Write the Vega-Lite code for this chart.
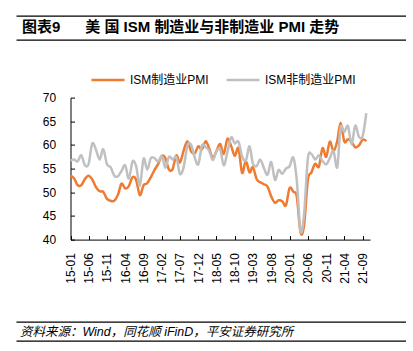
{
  "$schema": "https://vega.github.io/schema/vega-lite/v6.json",
  "padding": {"left": 16, "top": 15.6, "right": 0, "bottom": 0},
  "background": "white",
  "config": {"view": {"stroke": null}, "font": "Liberation Sans, Noto Sans CJK SC", "axisX": {"labelOverlap": false}},
  "bounds": "flush",
  "spacing": 0,
  "vconcat": [
    {
      "width": 390,
      "height": 23.3,
      "data": {"values": []},
      "title": {"text": "图表9\u00a0\u00a0\u00a0\u00a0\u00a0\u00a0美 国 ISM 制造业与非制造业 PMI 走势", "orient": "top", "anchor": "start", "offset": -19, "dx": 6, "fontSize": 15, "fontWeight": "bold", "color": "#000", "font": "Liberation Sans, Noto Sans CJK SC"},
      "mark": {"type": "point", "opacity": 0},
      "encoding": {"x": {"field": "v", "type": "quantitative", "scale": {"domain": [0, 1]}, "axis": {"orient": "top", "labels": false, "ticks": false, "grid": false, "title": null, "domainColor": "#000", "domainWidth": 1.3}}}
    },
    {
      "width": 390,
      "height": 57.7,
      "data": {"values": []},
      "mark": {"type": "point", "opacity": 0},
      "encoding": {"x": {"field": "v", "type": "quantitative", "scale": {"domain": [0, 1]}, "axis": {"orient": "top", "labels": false, "ticks": false, "grid": false, "title": null, "domainColor": "#000", "domainWidth": 1.3}}}
    },
    {
      "width": 390,
      "height": 223.7,
      "data": {"values": [
        {"date": "2015/01/01", "ISM制造业PMI": 53.5, "ISM非制造业PMI": 56.7},
        {"date": "2015/02/01", "ISM制造业PMI": 52.9, "ISM非制造业PMI": 56.9},
        {"date": "2015/03/01", "ISM制造业PMI": 51.5, "ISM非制造业PMI": 56.5},
        {"date": "2015/04/01", "ISM制造业PMI": 51.5, "ISM非制造业PMI": 57.8},
        {"date": "2015/05/01", "ISM制造业PMI": 52.8, "ISM非制造业PMI": 55.7},
        {"date": "2015/06/01", "ISM制造业PMI": 53.5, "ISM非制造业PMI": 56.0},
        {"date": "2015/07/01", "ISM制造业PMI": 52.7, "ISM非制造业PMI": 60.3},
        {"date": "2015/08/01", "ISM制造业PMI": 51.1, "ISM非制造业PMI": 59.0},
        {"date": "2015/09/01", "ISM制造业PMI": 50.2, "ISM非制造业PMI": 56.9},
        {"date": "2015/10/01", "ISM制造业PMI": 50.1, "ISM非制造业PMI": 59.1},
        {"date": "2015/11/01", "ISM制造业PMI": 48.6, "ISM非制造业PMI": 55.9},
        {"date": "2015/12/01", "ISM制造业PMI": 48.2, "ISM非制造业PMI": 55.3},
        {"date": "2016/01/01", "ISM制造业PMI": 48.2, "ISM非制造业PMI": 53.5},
        {"date": "2016/02/01", "ISM制造业PMI": 49.5, "ISM非制造业PMI": 53.4},
        {"date": "2016/03/01", "ISM制造业PMI": 51.8, "ISM非制造业PMI": 54.5},
        {"date": "2016/04/01", "ISM制造业PMI": 50.8, "ISM非制造业PMI": 55.7},
        {"date": "2016/05/01", "ISM制造业PMI": 51.3, "ISM非制造业PMI": 52.9},
        {"date": "2016/06/01", "ISM制造业PMI": 53.2, "ISM非制造业PMI": 56.5},
        {"date": "2016/07/01", "ISM制造业PMI": 52.6, "ISM非制造业PMI": 55.5},
        {"date": "2016/08/01", "ISM制造业PMI": 49.4, "ISM非制造业PMI": 51.4},
        {"date": "2016/09/01", "ISM制造业PMI": 51.5, "ISM非制造业PMI": 57.1},
        {"date": "2016/10/01", "ISM制造业PMI": 51.9, "ISM非制造业PMI": 54.8},
        {"date": "2016/11/01", "ISM制造业PMI": 53.2, "ISM非制造业PMI": 57.2},
        {"date": "2016/12/01", "ISM制造业PMI": 54.7, "ISM非制造业PMI": 57.2},
        {"date": "2017/01/01", "ISM制造业PMI": 56.0, "ISM非制造业PMI": 56.5},
        {"date": "2017/02/01", "ISM制造业PMI": 57.7, "ISM非制造业PMI": 57.6},
        {"date": "2017/03/01", "ISM制造业PMI": 57.2, "ISM非制造业PMI": 55.2},
        {"date": "2017/04/01", "ISM制造业PMI": 54.8, "ISM非制造业PMI": 57.5},
        {"date": "2017/05/01", "ISM制造业PMI": 54.9, "ISM非制造业PMI": 56.9},
        {"date": "2017/06/01", "ISM制造业PMI": 57.8, "ISM非制造业PMI": 57.4},
        {"date": "2017/07/01", "ISM制造业PMI": 56.3, "ISM非制造业PMI": 53.9},
        {"date": "2017/08/01", "ISM制造业PMI": 58.8, "ISM非制造业PMI": 55.3},
        {"date": "2017/09/01", "ISM制造业PMI": 60.8, "ISM非制造业PMI": 59.8},
        {"date": "2017/10/01", "ISM制造业PMI": 58.7, "ISM非制造业PMI": 60.1},
        {"date": "2017/11/01", "ISM制造业PMI": 58.2, "ISM非制造业PMI": 57.4},
        {"date": "2017/12/01", "ISM制造业PMI": 59.7, "ISM非制造业PMI": 55.9},
        {"date": "2018/01/01", "ISM制造业PMI": 59.1, "ISM非制造业PMI": 59.9},
        {"date": "2018/02/01", "ISM制造业PMI": 60.8, "ISM非制造业PMI": 59.5},
        {"date": "2018/03/01", "ISM制造业PMI": 59.3, "ISM非制造业PMI": 58.8},
        {"date": "2018/04/01", "ISM制造业PMI": 57.3, "ISM非制造业PMI": 56.8},
        {"date": "2018/05/01", "ISM制造业PMI": 58.7, "ISM非制造业PMI": 58.6},
        {"date": "2018/06/01", "ISM制造业PMI": 60.2, "ISM非制造业PMI": 59.1},
        {"date": "2018/07/01", "ISM制造业PMI": 58.1, "ISM非制造业PMI": 55.7},
        {"date": "2018/08/01", "ISM制造业PMI": 61.3, "ISM非制造业PMI": 58.5},
        {"date": "2018/09/01", "ISM制造业PMI": 59.8, "ISM非制造业PMI": 61.6},
        {"date": "2018/10/01", "ISM制造业PMI": 57.7, "ISM非制造业PMI": 60.3},
        {"date": "2018/11/01", "ISM制造业PMI": 59.3, "ISM非制造业PMI": 60.7},
        {"date": "2018/12/01", "ISM制造业PMI": 54.1, "ISM非制造业PMI": 57.6},
        {"date": "2019/01/01", "ISM制造业PMI": 56.6, "ISM非制造业PMI": 56.7},
        {"date": "2019/02/01", "ISM制造业PMI": 54.2, "ISM非制造业PMI": 59.7},
        {"date": "2019/03/01", "ISM制造业PMI": 55.3, "ISM非制造业PMI": 56.1},
        {"date": "2019/04/01", "ISM制造业PMI": 52.8, "ISM非制造业PMI": 55.5},
        {"date": "2019/05/01", "ISM制造业PMI": 52.1, "ISM非制造业PMI": 56.9},
        {"date": "2019/06/01", "ISM制造业PMI": 51.7, "ISM非制造业PMI": 55.1},
        {"date": "2019/07/01", "ISM制造业PMI": 51.2, "ISM非制造业PMI": 53.7},
        {"date": "2019/08/01", "ISM制造业PMI": 49.1, "ISM非制造业PMI": 56.4},
        {"date": "2019/09/01", "ISM制造业PMI": 47.8, "ISM非制造业PMI": 52.6},
        {"date": "2019/10/01", "ISM制造业PMI": 48.3, "ISM非制造业PMI": 54.7},
        {"date": "2019/11/01", "ISM制造业PMI": 48.1, "ISM非制造业PMI": 53.9},
        {"date": "2019/12/01", "ISM制造业PMI": 47.2, "ISM非制造业PMI": 55.0},
        {"date": "2020/01/01", "ISM制造业PMI": 50.9, "ISM非制造业PMI": 55.5},
        {"date": "2020/02/01", "ISM制造业PMI": 50.1, "ISM非制造业PMI": 57.3},
        {"date": "2020/03/01", "ISM制造业PMI": 49.1, "ISM非制造业PMI": 52.5},
        {"date": "2020/04/01", "ISM制造业PMI": 41.5, "ISM非制造业PMI": 41.8},
        {"date": "2020/05/01", "ISM制造业PMI": 43.1, "ISM非制造业PMI": 45.4},
        {"date": "2020/06/01", "ISM制造业PMI": 52.6, "ISM非制造业PMI": 57.1},
        {"date": "2020/07/01", "ISM制造业PMI": 54.2, "ISM非制造业PMI": 58.1},
        {"date": "2020/08/01", "ISM制造业PMI": 56.0, "ISM非制造业PMI": 56.9},
        {"date": "2020/09/01", "ISM制造业PMI": 55.4, "ISM非制造业PMI": 57.8},
        {"date": "2020/10/01", "ISM制造业PMI": 59.3, "ISM非制造业PMI": 56.6},
        {"date": "2020/11/01", "ISM制造业PMI": 57.5, "ISM非制造业PMI": 55.9},
        {"date": "2020/12/01", "ISM制造业PMI": 60.7, "ISM非制造业PMI": 57.2},
        {"date": "2021/01/01", "ISM制造业PMI": 58.7, "ISM非制造业PMI": 58.7},
        {"date": "2021/02/01", "ISM制造业PMI": 60.8, "ISM非制造业PMI": 55.3},
        {"date": "2021/03/01", "ISM制造业PMI": 64.7, "ISM非制造业PMI": 63.7},
        {"date": "2021/04/01", "ISM制造业PMI": 60.7, "ISM非制造业PMI": 62.7},
        {"date": "2021/05/01", "ISM制造业PMI": 61.2, "ISM非制造业PMI": 64.0},
        {"date": "2021/06/01", "ISM制造业PMI": 60.6, "ISM非制造业PMI": 60.1},
        {"date": "2021/07/01", "ISM制造业PMI": 59.5, "ISM非制造业PMI": 64.1},
        {"date": "2021/08/01", "ISM制造业PMI": 59.9, "ISM非制造业PMI": 61.7},
        {"date": "2021/09/01", "ISM制造业PMI": 61.1, "ISM非制造业PMI": 61.9},
        {"date": "2021/10/01", "ISM制造业PMI": 60.8, "ISM非制造业PMI": 66.7}
      ]},
      "encoding": {
        "x": {
          "field": "date", "type": "temporal",
          "scale": {"domain": [{"year": 2015, "month": 1, "date": 1}, {"year": 2021, "month": 11, "date": 1}], "range": [54.5, 354]},
          "axis": {
            "title": null, "grid": false, "format": "%y-%m", "offset": -81.7,
            "values": [
              {"year": 2015, "month": 1, "date": 1}, {"year": 2015, "month": 6, "date": 1}, {"year": 2015, "month": 11, "date": 1},
              {"year": 2016, "month": 4, "date": 1}, {"year": 2016, "month": 9, "date": 1}, {"year": 2017, "month": 2, "date": 1},
              {"year": 2017, "month": 7, "date": 1}, {"year": 2017, "month": 12, "date": 1}, {"year": 2018, "month": 5, "date": 1},
              {"year": 2018, "month": 10, "date": 1}, {"year": 2019, "month": 3, "date": 1}, {"year": 2019, "month": 8, "date": 1},
              {"year": 2020, "month": 1, "date": 1}, {"year": 2020, "month": 6, "date": 1}, {"year": 2020, "month": 11, "date": 1},
              {"year": 2021, "month": 4, "date": 1}, {"year": 2021, "month": 9, "date": 1}
            ],
            "labelAngle": 270, "labelAlign": "right", "labelBaseline": "middle",
            "labelOverlap": false, "labelFlush": false, "labelSeparation": 0,
            "tickSize": -4, "labelPadding": 17,
            "domainColor": "#000", "tickColor": "#000", "labelColor": "#000",
            "labelFontSize": 12, "labelFont": "Liberation Sans"
          }
        },
        "y": {
          "field": "value", "type": "quantitative",
          "scale": {"domain": [40, 70], "nice": false, "zero": false, "range": [142, 0]},
          "axis": {
            "title": null, "grid": false, "values": [40, 45, 50, 55, 60, 65, 70], "offset": -54.5,
            "tickSize": -4, "labelPadding": 18.8,
            "domainColor": "#000", "tickColor": "#000", "labelColor": "#000",
            "labelFontSize": 12, "labelFont": "Liberation Sans"
          }
        }
      },
      "layer": [
        {
          "mark": {"type": "rule", "color": "#EE7B30", "strokeWidth": 1.3, "strokeDash": [6, 4]},
          "encoding": {
            "y": {"datum": 50, "type": "quantitative"},
            "x": {"datum": {"year": 2015, "month": 1, "date": 1}, "type": "temporal"},
            "x2": {"datum": {"year": 2021, "month": 11, "date": 1}}
          }
        },
        {
          "transform": [{"fold": ["ISM制造业PMI", "ISM非制造业PMI"], "as": ["series", "value"]}],
          "mark": {"type": "line", "strokeWidth": 2.5, "interpolate": "cardinal"},
          "encoding": {
            "color": {
              "field": "series", "type": "nominal",
              "scale": {"domain": ["ISM制造业PMI", "ISM非制造业PMI"], "range": ["#EE7B30", "#C0C0C0"]},
              "legend": {
                "orient": "none", "legendX": 74, "legendY": 46.5,
                "title": null, "direction": "horizontal",
                "symbolType": "stroke", "symbolSize": 1089, "symbolStrokeWidth": 2.5,
                "labelFontSize": 12, "labelColor": "#000", "labelFont": "Liberation Sans, Noto Sans CJK SC",
                "columnPadding": 12, "labelOffset": 4
              }
            }
          }
        }
      ]
    },
    {
      "width": 390,
      "height": 18.3,
      "data": {"values": []},
      "title": {"text": "资料来源：Wind，同花顺 iFinD，平安证券研究所", "orient": "top", "anchor": "start", "offset": -16.5, "dx": 4, "fontSize": 12.5, "fontStyle": "italic", "fontWeight": "normal", "color": "#000", "font": "Liberation Sans, Noto Sans CJK SC"},
      "mark": {"type": "point", "opacity": 0},
      "encoding": {"x": {"field": "v", "type": "quantitative", "scale": {"domain": [0, 1]}, "axis": {"orient": "top", "labels": false, "ticks": false, "grid": false, "title": null, "domainColor": "#000", "domainWidth": 1.3}}}
    },
    {
      "width": 390,
      "height": 1,
      "data": {"values": []},
      "mark": {"type": "point", "opacity": 0},
      "encoding": {"x": {"field": "v", "type": "quantitative", "scale": {"domain": [0, 1]}, "axis": {"orient": "top", "labels": false, "ticks": false, "grid": false, "title": null, "domainColor": "#000", "domainWidth": 1.3}}}
    }
  ]
}
